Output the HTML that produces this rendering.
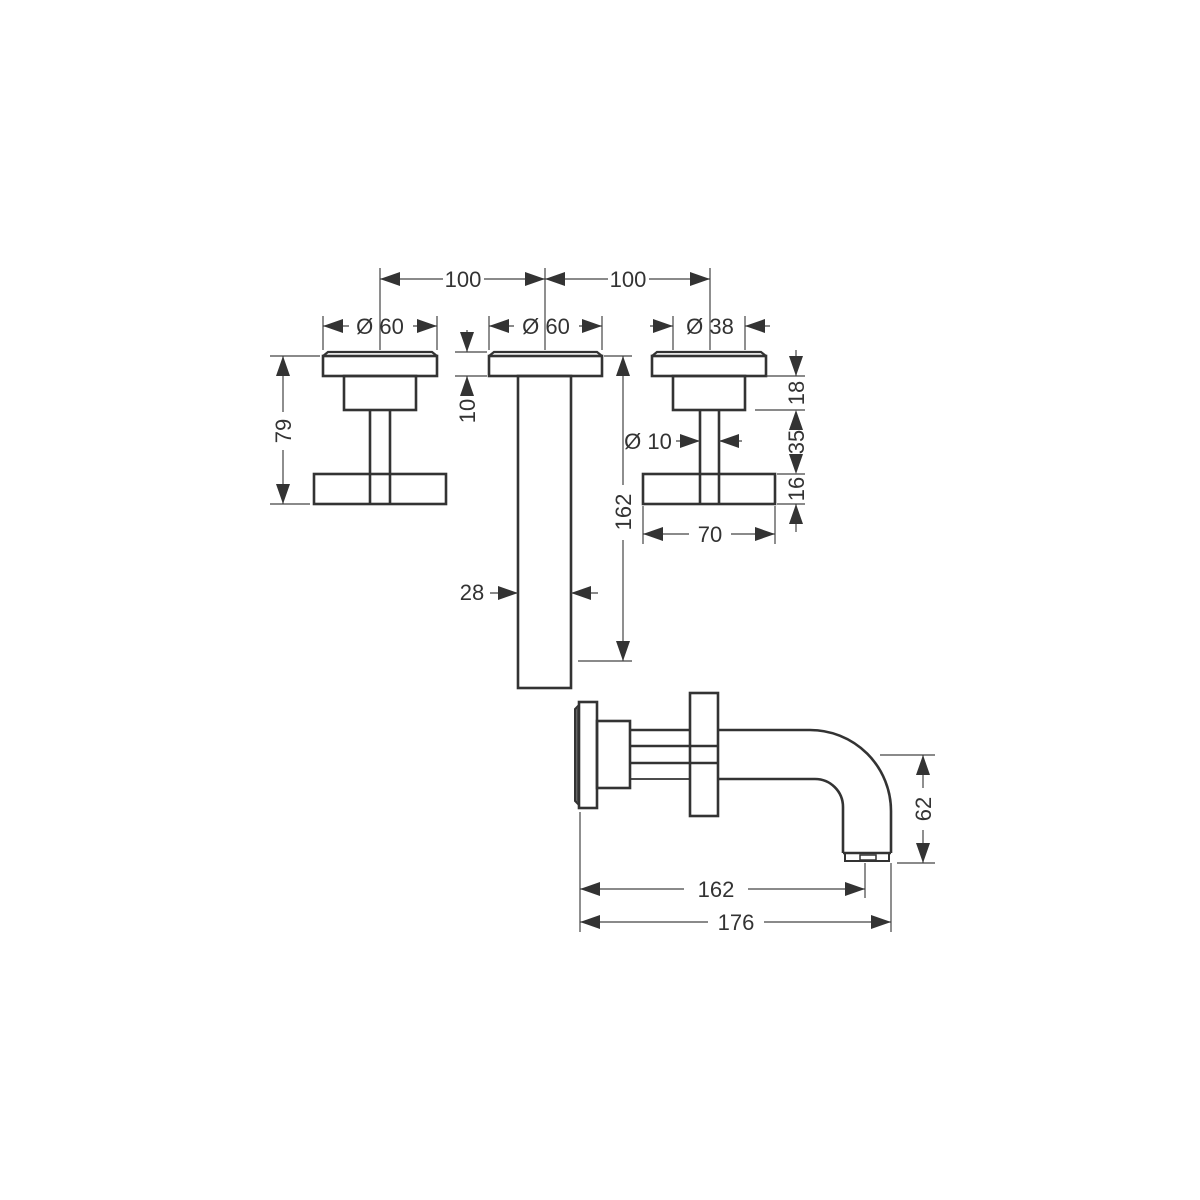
<!DOCTYPE html>
<html><head><meta charset="utf-8"><style>
html,body{margin:0;padding:0;background:#fff;}
svg{display:block;}
text{font-family:"Liberation Sans","DejaVu Sans",sans-serif;font-size:22px;fill:#333;}
</style></head><body>
<svg width="1200" height="1200" viewBox="0 0 1200 1200" xmlns="http://www.w3.org/2000/svg">
<g fill="none" stroke="#333" stroke-width="2.6">
<rect x="323" y="356" width="114" height="20"/>
<path d="M323 356 L328 352 L432 352 L437 356" stroke-width="2.2"/>
<rect x="344" y="376" width="72" height="34"/>
<line x1="370" y1="410" x2="370" y2="504"/>
<line x1="390" y1="410" x2="390" y2="504"/>
<rect x="314" y="474" width="132" height="30"/>
<rect x="489" y="356" width="113" height="20"/>
<path d="M489 356 L494 352 L597 352 L602 356" stroke-width="2.2"/>
<rect x="518" y="376" width="53" height="312"/>
<rect x="652" y="356" width="114" height="20"/>
<path d="M652 356 L657 352 L761 352 L766 356" stroke-width="2.2"/>
<rect x="673" y="376" width="72" height="34"/>
<line x1="700" y1="410" x2="700" y2="504"/>
<line x1="719" y1="410" x2="719" y2="504"/>
<rect x="643" y="474" width="132" height="30"/>
<rect x="579" y="702" width="18" height="106"/>
<path d="M579 705 L575 709 L575 801 L579 805" stroke-width="2"/>
<line x1="577" y1="708" x2="577" y2="802" stroke-width="1.5"/>
<rect x="597" y="721" width="33" height="67"/>
<line x1="630" y1="730" x2="690" y2="730"/>
<line x1="630" y1="746" x2="718" y2="746"/>
<line x1="630" y1="763" x2="718" y2="763"/>
<line x1="630" y1="779" x2="690" y2="779" stroke-width="1.8"/>
<rect x="690" y="693" width="28" height="123"/>
<path d="M718 730 L810 730 A81 81 0 0 1 891 811 L891 853"/>
<path d="M718 779 L815 779 A28 28 0 0 1 843 807 L843 853"/>
<line x1="843" y1="853" x2="891" y2="853"/>
<path d="M845 853 L845 861 L889 861 L889 853" stroke-width="2"/>
<rect x="860" y="855" width="16" height="5" stroke-width="1.5"/>
</g>
<g stroke="#444" stroke-width="1.2" fill="none">
<line x1="380" y1="279" x2="443" y2="279"/><line x1="484" y1="279" x2="608" y2="279"/><line x1="649" y1="279" x2="710" y2="279"/>
<line x1="380" y1="268" x2="380" y2="350"/><line x1="545" y1="268" x2="545" y2="350"/><line x1="710" y1="268" x2="710" y2="350"/>
<line x1="323" y1="316" x2="323" y2="350"/><line x1="437" y1="316" x2="437" y2="350"/>
<line x1="323" y1="326" x2="349" y2="326"/><line x1="413" y1="326" x2="437" y2="326"/>
<line x1="489" y1="316" x2="489" y2="350"/><line x1="602" y1="316" x2="602" y2="350"/>
<line x1="489" y1="326" x2="514" y2="326"/><line x1="579" y1="326" x2="602" y2="326"/>
<line x1="673" y1="316" x2="673" y2="350"/><line x1="745" y1="316" x2="745" y2="350"/>
<line x1="650" y1="326" x2="673" y2="326"/><line x1="745" y1="326" x2="770" y2="326"/>
<line x1="270" y1="356" x2="320" y2="356"/><line x1="270" y1="504" x2="310" y2="504"/>
<line x1="283" y1="356" x2="283" y2="412"/><line x1="283" y1="450" x2="283" y2="504"/>
<line x1="455" y1="352" x2="487" y2="352"/><line x1="455" y1="376" x2="487" y2="376"/>
<line x1="467" y1="330" x2="467" y2="352"/><line x1="467" y1="376" x2="467" y2="394"/>
<line x1="604" y1="356" x2="632" y2="356"/><line x1="578" y1="661" x2="632" y2="661"/>
<line x1="623" y1="356" x2="623" y2="485"/><line x1="623" y1="540" x2="623" y2="661"/>
<line x1="490" y1="593" x2="518" y2="593"/><line x1="571" y1="593" x2="598" y2="593"/>
<line x1="676" y1="441" x2="700" y2="441"/><line x1="719" y1="441" x2="742" y2="441"/>
<line x1="766" y1="376" x2="805" y2="376"/><line x1="755" y1="410" x2="805" y2="410"/>
<line x1="777" y1="474" x2="805" y2="474"/><line x1="777" y1="504" x2="805" y2="504"/>
<line x1="796" y1="350" x2="796" y2="376"/><line x1="796" y1="504" x2="796" y2="532"/>
<line x1="643" y1="506" x2="643" y2="544"/><line x1="775" y1="506" x2="775" y2="544"/>
<line x1="643" y1="534" x2="689" y2="534"/><line x1="731" y1="534" x2="775" y2="534"/>
<line x1="880" y1="755" x2="935" y2="755"/><line x1="897" y1="863" x2="935" y2="863"/>
<line x1="923" y1="755" x2="923" y2="788"/><line x1="923" y1="830" x2="923" y2="863"/>
<line x1="580" y1="812" x2="580" y2="932"/><line x1="865" y1="863" x2="865" y2="898"/><line x1="891" y1="863" x2="891" y2="932"/>
<line x1="580" y1="889" x2="684" y2="889"/><line x1="748" y1="889" x2="865" y2="889"/>
<line x1="580" y1="922" x2="708" y2="922"/><line x1="764" y1="922" x2="891" y2="922"/>
</g>
<g fill="#333">
<polygon points="380,279 400,272 400,286"/><polygon points="545,279 525,272 525,286"/>
<polygon points="545,279 565,272 565,286"/><polygon points="710,279 690,272 690,286"/>
<polygon points="323,326 343,319 343,333"/><polygon points="437,326 417,319 417,333"/>
<polygon points="489,326 509,319 509,333"/><polygon points="602,326 582,319 582,333"/>
<polygon points="673,326 653,319 653,333"/><polygon points="745,326 765,319 765,333"/>
<polygon points="283,356 276,376 290,376"/><polygon points="283,504 276,484 290,484"/>
<polygon points="467,352 460,332 474,332"/><polygon points="467,376 460,396 474,396"/>
<polygon points="623,356 616,376 630,376"/><polygon points="623,661 616,641 630,641"/>
<polygon points="518,593 498,586 498,600"/><polygon points="571,593 591,586 591,600"/>
<polygon points="700,441 680,434 680,448"/><polygon points="719,441 739,434 739,448"/>
<polygon points="796,376 789,356 803,356"/><polygon points="796,410 789,430 803,430"/>
<polygon points="796,474 789,454 803,454"/><polygon points="796,504 789,524 803,524"/>
<polygon points="643,534 663,527 663,541"/><polygon points="775,534 755,527 755,541"/>
<polygon points="923,755 916,775 930,775"/><polygon points="923,863 916,843 930,843"/>
<polygon points="580,889 600,882 600,896"/><polygon points="865,889 845,882 845,896"/>
<polygon points="580,922 600,915 600,929"/><polygon points="891,922 871,915 871,929"/>
</g>
<g>
<text x="463" y="287" text-anchor="middle">100</text>
<text x="628" y="287" text-anchor="middle">100</text>
<text x="380" y="334" text-anchor="middle">Ø 60</text>
<text x="546" y="334" text-anchor="middle">Ø 60</text>
<text x="710" y="334" text-anchor="middle">Ø 38</text>
<text x="648" y="449" text-anchor="middle">Ø 10</text>
<text x="472" y="600" text-anchor="middle">28</text>
<text x="710" y="542" text-anchor="middle">70</text>
<text x="716" y="897" text-anchor="middle">162</text>
<text x="736" y="930" text-anchor="middle">176</text>
<text transform="translate(291,431) rotate(-90)" text-anchor="middle">79</text>
<text transform="translate(475,411) rotate(-90)" text-anchor="middle">10</text>
<text transform="translate(631,512) rotate(-90)" text-anchor="middle">162</text>
<text transform="translate(804,393) rotate(-90)" text-anchor="middle">18</text>
<text transform="translate(804,442) rotate(-90)" text-anchor="middle">35</text>
<text transform="translate(804,489) rotate(-90)" text-anchor="middle">16</text>
<text transform="translate(931,809) rotate(-90)" text-anchor="middle">62</text>
</g>
</svg>
</body></html>
